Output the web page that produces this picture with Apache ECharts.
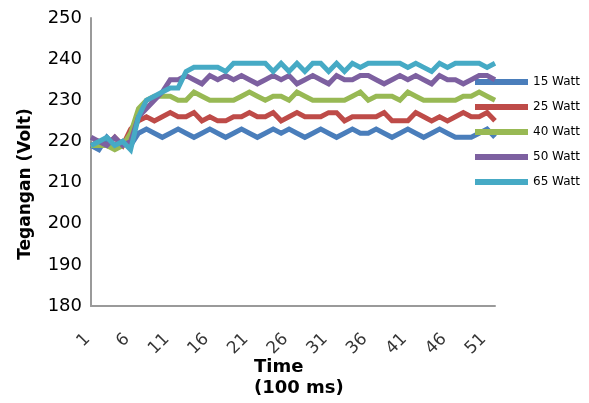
<!DOCTYPE html>
<html>
<head>
<meta charset="utf-8">
<script src="https://cdn.jsdelivr.net/npm/echarts@6/dist/echarts.min.js"></script>
<style>
  html, body { margin: 0; padding: 0; background: #fff; }
  #chart { width: 589px; height: 403px; }
</style>
</head>
<body>
<div id="chart"></div>
<script>
// Time steps (x 100 ms)
const timeSteps = [];
for (let t = 1; t <= 52; t++) timeSteps.push(String(t));

// Tick labels shown under the time axis
const timeTickLabels = ['1', '6', '11', '16', '21', '26', '31', '36', '41', '46', '51'];

// Measured voltage per lamp load
const watt15 = [219, 218, 221, 219, 220, 219, 222, 223, 222, 221, 222, 223, 222,
  221, 222, 223, 222, 221, 222, 223, 222, 221, 222, 223, 222, 223, 222, 221, 222,
  223, 222, 221, 222, 223, 222, 222, 223, 222, 221, 222, 223, 222, 221, 222, 223,
  222, 221, 221, 221, 222, 223, 221];
const watt25 = [219, 220, 219, 221, 219, 223, 225, 226, 225, 226, 227, 226, 226,
  227, 225, 226, 225, 225, 226, 226, 227, 226, 226, 227, 225, 226, 227, 226, 226,
  226, 227, 227, 225, 226, 226, 226, 226, 227, 225, 225, 225, 227, 226, 225, 226,
  225, 226, 227, 226, 226, 227, 225];
const watt40 = [219, 219, 219, 218, 219, 222, 228, 230, 231, 231, 231, 230, 230,
  232, 231, 230, 230, 230, 230, 231, 232, 231, 230, 231, 231, 230, 232, 231, 230,
  230, 230, 230, 230, 231, 232, 230, 231, 231, 231, 230, 232, 231, 230, 230, 230,
  230, 230, 231, 231, 232, 231, 230];
const watt50 = [221, 220, 219, 221, 219, 220, 226, 228, 230, 232, 235, 235, 236,
  235, 234, 236, 235, 236, 235, 236, 235, 234, 235, 236, 235, 236, 234, 235, 236,
  235, 234, 236, 235, 235, 236, 236, 235, 234, 235, 236, 235, 236, 235, 234, 236,
  235, 235, 234, 235, 236, 236, 235];
const watt65 = [219, 220, 221, 219, 220, 218, 226, 230, 231, 232, 233, 233, 237,
  238, 238, 238, 238, 237, 239, 239, 239, 239, 239, 237, 239, 237, 239, 237, 239,
  239, 237, 239, 237, 239, 238, 239, 239, 239, 239, 239, 238, 239, 238, 237, 239,
  238, 239, 239, 239, 239, 238, 239];

const seriesNames = ['15 Watt', '25 Watt', '40 Watt', '50 Watt', '65 Watt'];
const seriesData = [watt15, watt25, watt40, watt50, watt65];
const colors = ['#4a7ebb', '#be4b48', '#98b954', '#7d60a0', '#46aac5'];

const yTicks = { min: 180, max: 250, step: 10 };

const chart = echarts.init(document.getElementById('chart'), null, { renderer: 'canvas' });
const font = 'DejaVu Sans';

const lineSeries = seriesData.map((d, i) => ({
  name: seriesNames[i],
  type: 'line',
  data: d,
  showSymbol: false,
  symbol: 'none',
  lineStyle: { width: 5, color: colors[i], join: 'miter' },
  z: 2 + i
}));

// Slanted tick labels, anchored on the category positions along the axis.
// The offset is given in the label's rotated frame.
const tickLabelSeries = {
  type: 'scatter',
  name: 'ticks',
  silent: true,
  symbolSize: 0,
  clip: false,
  data: timeTickLabels.map(t => [t, yTicks.min]),
  label: {
    show: true,
    position: 'inside',
    offset: [-24, 19],
    rotate: 45,
    align: 'right',
    verticalAlign: 'middle',
    fontFamily: font,
    fontSize: 17,
    color: '#000',
    formatter: p => p.value[0]
  },
  z: 1
};

chart.setOption({
  animation: false,
  backgroundColor: '#ffffff',
  color: colors,
  grid: { left: 91, right: 94, top: 18, bottom: 97 },
  legend: {
    orient: 'vertical',
    left: 470,
    top: 70,
    icon: 'rect',
    itemWidth: 53,
    itemHeight: 6,
    itemGap: 11,
    textStyle: { fontFamily: font, fontSize: 12, color: '#000', lineHeight: 14 },
    data: seriesNames
  },
  xAxis: {
    type: 'category',
    boundaryGap: false,
    data: timeSteps,
    axisLine: { lineStyle: { color: '#9a9a9a', width: 2 } },
    axisTick: { show: false },
    axisLabel: { show: false },
    splitLine: { show: false }
  },
  yAxis: {
    type: 'value',
    min: yTicks.min,
    max: yTicks.max,
    interval: yTicks.step,
    axisLine: { show: true, lineStyle: { color: '#9a9a9a', width: 2 } },
    axisTick: { show: false },
    axisLabel: { fontFamily: font, fontSize: 18, color: '#000', margin: 9 },
    splitLine: { show: false }
  },
  graphic: [
    {
      type: 'text',
      x: 26,
      y: 184,
      rotation: Math.PI / 2,
      style: {
        text: 'Tegangan (Volt)',
        fontFamily: font,
        fontWeight: 'bold',
        fontSize: 17,
        fill: '#000',
        textAlign: 'center',
        textVerticalAlign: 'middle'
      }
    },
    {
      type: 'text',
      left: 254,
      top: 357,
      style: {
        text: 'Time\n(100 ms)',
        fontFamily: font,
        fontWeight: 'bold',
        fontSize: 18,
        lineHeight: 21,
        fill: '#000'
      }
    }
  ],
  series: lineSeries.concat([tickLabelSeries])
});
</script>
</body>
</html>
